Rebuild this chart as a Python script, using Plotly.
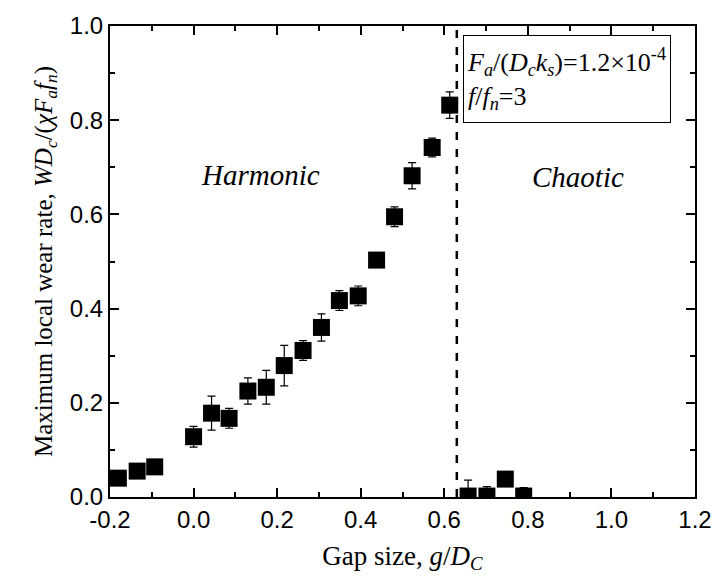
import plotly.graph_objects as go

# Harmonic regime data
gap_h = [-0.18, -0.135, -0.093, 0.0, 0.043, 0.085, 0.13, 0.174, 0.217, 0.262,
         0.306, 0.349, 0.394, 0.438, 0.481, 0.523, 0.571, 0.613]
wear_h = [0.040, 0.055, 0.064, 0.128, 0.178, 0.167, 0.225, 0.233, 0.279, 0.311,
          0.360, 0.417, 0.427, 0.503, 0.595, 0.682, 0.742, 0.832]
err_h = [0.004, 0.004, 0.004, 0.022, 0.036, 0.021, 0.028, 0.036, 0.043, 0.021,
         0.029, 0.021, 0.021, 0.004, 0.021, 0.028, 0.020, 0.028]

# Chaotic regime data
gap_c = [0.657, 0.702, 0.746, 0.790]
wear_c = [0.002, 0.002, 0.038, 0.002]
err_c = [0.034, 0.020, 0.004, 0.018]

boundary = 0.63

x_ticks = [-0.2, 0.0, 0.2, 0.4, 0.6, 0.8, 1.0, 1.2]
y_ticks = [0.0, 0.2, 0.4, 0.6, 0.8, 1.0]

SERIF = "Liberation Serif"
SANS = "Liberation Sans"

fig = go.Figure()

marker = dict(symbol="square", size=17, color="black", line=dict(width=0))
errstyle = dict(type="data", thickness=1.2, width=4, color="black")

fig.add_trace(go.Scatter(
    x=gap_h + gap_c, y=wear_h + wear_c, mode="markers",
    marker=marker,
    error_y=dict(array=err_h + err_c, **errstyle),
    showlegend=False,
))

# boundary line
fig.add_shape(type="line", xref="x", yref="paper", x0=boundary, x1=boundary,
              y0=0, y1=1, line=dict(color="black", width=2.5, dash="8px,9px"))

axis_common = dict(
    showline=True, linecolor="black", linewidth=2, mirror="allticks",
    ticks="inside", ticklen=9, tickwidth=1.5, tickcolor="black",
    showgrid=False, zeroline=False,
    tickfont=dict(family=SANS, size=24, color="black"),
)

fig.update_xaxes(
    range=[-0.2, 1.2], tickvals=x_ticks, ticktext=[f"{v:.1f}" for v in x_ticks],
    minor=dict(ticks="inside", ticklen=5, tickwidth=1.5, dtick=0.1, tick0=-0.2,
               tickcolor="black", showgrid=False),
    title=dict(text="Gap size, <i>g</i>/<i>D</i><sub><i>C</i></sub>",
               font=dict(family=SERIF, size=27, color="black"), standoff=14),
    **axis_common,
)
fig.update_yaxes(
    range=[0, 1.0], tickvals=y_ticks, ticktext=[f"{v:.1f}" for v in y_ticks],
    minor=dict(ticks="inside", ticklen=5, tickwidth=1.5, dtick=0.1, tick0=0,
               tickcolor="black", showgrid=False),
    title=dict(text="Maximum local wear rate, <i>WD</i><sub><i>c</i></sub>/(<i>χF</i><sub><i>a</i></sub><i>f</i><sub><i>n</i></sub>)",
               font=dict(family=SERIF, size=25, color="black"), standoff=10),
    **axis_common,
)

fig.add_annotation(x=0.161, y=0.683, xref="x", yref="y", text="<i>Harmonic</i>",
                   showarrow=False, font=dict(family=SERIF, size=29, color="black"))
fig.add_annotation(x=0.921, y=0.679, xref="x", yref="y", text="<i>Chaotic</i>",
                   showarrow=False, font=dict(family=SERIF, size=29, color="black"))

fig.add_annotation(
    x=0.644, y=0.981, xref="x", yref="y", xanchor="left", yanchor="top",
    text=("<i>F</i><sub><i>a</i></sub>/(<i>D</i><sub><i>c</i></sub><i>k</i><sub><i>s</i></sub>)=1.2×10<sup>-4</sup>"
          "<br><i>f</i>/<i>f</i><sub><i>n</i></sub>=3"),
    align="left", showarrow=False, bordercolor="black", borderwidth=1,
    borderpad=3, bgcolor="white", width=200, height=80,
    font=dict(family=SERIF, size=26, color="black"),
)

fig.update_layout(
    width=724, height=588,
    margin=dict(l=110, r=27, t=24, b=91),
    plot_bgcolor="white", paper_bgcolor="white",
)

fig.write_html("out.html")
